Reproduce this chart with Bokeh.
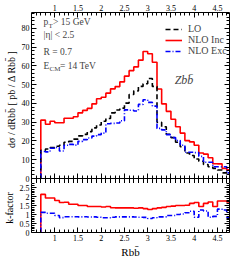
from bokeh.plotting import figure
from bokeh.layouts import column
from bokeh.models import Range1d, LinearAxis, FixedTicker, Label, Legend, LegendItem, Span
from bokeh.embed import file_html
from bokeh.resources import INLINE

# ---------------- data ----------------
bin_edges = [0.7, 0.8, 0.9, 1.0, 1.1, 1.2, 1.3, 1.4, 1.5, 1.6, 1.7, 1.8, 1.9, 2.0,
             2.1, 2.2, 2.3, 2.4, 2.5, 2.6, 2.7, 2.8, 2.9, 3.0, 3.1, 3.2, 3.3, 3.4,
             3.5, 3.6, 3.7, 3.8, 3.9, 4.0, 4.1, 4.2, 4.3, 4.4, 4.5, 4.6, 4.7, 4.8]

lo = [15.0, 15.7, 16.5, 17.2, 17.7, 19.3, 19.8, 21.0, 22.7, 23.5, 25.0, 27.0, 28.5, 30.5,
      32.0, 35.0, 36.5, 37.5, 40.2, 44.8, 46.7, 49.1, 50.5, 53.3, 49.1, 30.0, 27.6, 23.6,
      21.8, 19.3, 16.9, 13.6, 12.3, 10.4, 9.2, 7.5, 6.3, 5.4, 4.5, 3.0, 2.3]

nlo_inc = [31.1, 28.9, 30.5, 29.7, 29.7, 32.1, 32.1, 32.9, 35.0, 36.3, 37.4, 39.8, 42.5, 43.3,
           45.5, 47.8, 49.0, 51.5, 54.6, 57.5, 59.5, 63.1, 67.7, 66.5, 62.0, 47.7, 39.8, 35.8,
           31.6, 27.6, 24.2, 20.2, 19.5, 17.7, 13.6, 13.0, 11.1, 7.9, 7.8, 5.4, 4.6]

nlo_exc = [14.4, 14.2, 16.1, 16.5, 14.7, 17.7, 18.2, 17.8, 19.8, 20.7, 21.6, 22.6, 23.4, 24.2,
           29.2, 29.4, 29.6, 30.8, 36.6, 36.4, 36.0, 39.5, 42.0, 40.6, 38.6, 26.7, 25.9, 23.4,
           21.8, 20.2, 17.7, 14.0, 14.0, 13.8, 11.8, 8.7, 8.7, 6.3, 6.3, 6.3, 3.0]

k_inc = [2.12, 1.92, 1.92, 1.78, 1.67, 1.68, 1.57, 1.57, 1.50, 1.50, 1.45, 1.45, 1.45, 1.42,
         1.45, 1.38, 1.37, 1.37, 1.37, 1.37, 1.35, 1.37, 1.33, 1.28, 1.33, 1.37, 1.40, 1.45,
         1.47, 1.50, 1.50, 1.52, 1.62, 1.67, 1.45, 1.62, 1.70, 1.45, 1.75, 1.75, 1.70]

k_exc = [1.12, 1.07, 1.07, 0.95, 0.83, 0.88, 0.88, 0.88, 0.87, 0.88, 0.86, 0.87, 0.85, 0.82,
         0.82, 0.85, 0.87, 0.87, 0.87, 0.87, 0.86, 0.85, 0.84, 0.78, 0.82, 0.87, 0.87, 0.95,
         0.95, 1.00, 1.03, 1.10, 1.18, 0.85, 1.25, 1.20, 0.85, 0.90, 1.30, 1.25, 0.85]

x_ticks = [1, 1.5, 2, 2.5, 3, 3.5, 4, 4.5]
x_tick_labels = ["1", "1.5", "2", "2.5", "3", "3.5", "4", "4.5"]
x_minor = [0.6, 0.7, 0.8, 0.9, 1.1, 1.2, 1.3, 1.4, 1.6, 1.7, 1.8, 1.9, 2.1, 2.2, 2.3, 2.4,
           2.6, 2.7, 2.8, 2.9, 3.1, 3.2, 3.3, 3.4, 3.6, 3.7, 3.8, 3.9, 4.1, 4.2, 4.3, 4.4,
           4.6, 4.7]
y_ticks_main = [0, 10, 20, 30, 40, 50, 60, 70, 80]
y_tick_labels_main = ["0", "10", "20", "30", "40", "50", "60", "70", "80"]
y_minor_main = [2, 4, 6, 8, 12, 14, 16, 18, 22, 24, 26, 28, 32, 34, 36, 38, 42, 44, 46, 48,
                52, 54, 56, 58, 62, 64, 66, 68, 72, 74, 76, 78, 82, 84, 86, 88]
y_ticks_k = [0, 0.5, 1, 1.5, 2, 2.5]
y_tick_labels_k = ["0", "0.5", "1", "1.5", "2", "2.5"]
y_minor_k = [0.1, 0.2, 0.3, 0.4, 0.6, 0.7, 0.8, 0.9, 1.1, 1.2, 1.3, 1.4, 1.6, 1.7, 1.8,
             1.9, 2.1, 2.2, 2.3, 2.4, 2.6, 2.7, 2.8, 2.9]

series_names = ["LO", "NLO Inc", "NLO Exc"]
y_title = "dσ / dRbb\u0304  [ pb / Δ Rbb\u0304 ]"
k_title = "k-factor"
x_title = "Rbb\u0304"

# ---------------- geometry / styling ----------------
FONT = "Liberation Serif"
RED = "#ff0000"
BLUE = "#0000ff"
BLACK = "#000000"

W = 231
BORDER_L = 27        # y title + y tick labels
BORDER_R = 2
TOP_B = 12           # x tick labels above the upper panel
H_UP = 166           # upper panel height (px)
H_LO = 55            # lower panel height (px)
GAP = 5              # top slice of the lower panel drawn by the upper figure
BOT_B = 27           # x tick labels + x title

X_RANGE = (0.5, 4.76)
Y_MAIN = (0, 88.5)
Y_K = (0, 3.0)
main_span = Y_MAIN[1] - Y_MAIN[0]
k_span = Y_K[1] - Y_K[0]


def steps(edges, vals):
    xs = [edges[0]]
    ys = [0]
    for i, v in enumerate(vals):
        xs += [edges[i], edges[i + 1]]
        ys += [v, v]
    return xs, ys


def add_axis(p, side, ticks, minor, labels=None, show=True, tick_in=5, minor_in=3,
             line=True, title=None, title_size="10px"):
    ax = LinearAxis(ticker=FixedTicker(ticks=ticks, minor_ticks=minor))
    ax.major_tick_in = tick_in
    ax.major_tick_out = 0
    ax.minor_tick_in = minor_in
    ax.minor_tick_out = 0
    ax.axis_line_color = BLACK if line else None
    ax.major_tick_line_color = BLACK
    ax.minor_tick_line_color = BLACK
    ax.major_label_text_font = FONT
    if labels is not None:
        ax.major_label_overrides = {t: l for t, l in zip(ticks, labels)}
    if show:
        ax.major_label_text_font_size = "8px"
        ax.major_label_text_color = BLACK
        ax.major_label_standoff = 2
    else:
        ax.major_label_text_font_size = "0px"
        ax.major_label_text_color = None
        ax.major_label_standoff = 0
    if title is not None:
        ax.axis_label = title
        ax.axis_label_text_font = FONT
        ax.axis_label_text_font_style = "normal"
        ax.axis_label_text_font_size = title_size
        ax.axis_label_text_color = BLACK
        ax.axis_label_standoff = 2
    p.add_layout(ax, side)
    return ax


x_range = Range1d(*X_RANGE)

# ---------------- upper panel (plus thin top slice of the lower panel) ----------------
p1 = figure(width=W, height=TOP_B + H_UP + GAP, x_range=x_range,
            y_range=Range1d(Y_MAIN[0] - GAP * main_span / H_UP, Y_MAIN[1]),
            output_backend="svg", toolbar_location=None,
            x_axis_location=None, y_axis_location=None,
            min_border_left=BORDER_L, min_border_right=BORDER_R, min_border_top=TOP_B,
            min_border_bottom=0)
p1.grid.visible = False
p1.outline_line_color = None
p1.background_fill_color = "white"
p1.border_fill_color = "white"

add_axis(p1, "above", x_ticks, x_minor, x_tick_labels, show=True)
# ticks crossing the panel boundary (drawn up from the bottom of the slice)
add_axis(p1, "below", x_ticks, x_minor, x_tick_labels, show=False,
         tick_in=GAP + 5, minor_in=GAP + 3, line=False)
add_axis(p1, "left", y_ticks_main, y_minor_main, y_tick_labels_main, show=True,
         title=y_title)
add_axis(p1, "right", y_ticks_main, y_minor_main, y_tick_labels_main, show=False)
p1.add_layout(Span(location=Y_MAIN[0], dimension="width", line_color=BLACK, line_width=1))

xs, ys = steps(bin_edges, nlo_inc)
r_inc = p1.line(xs, ys, line_color=RED, line_width=1.6)
xs, ys = steps(bin_edges, lo)
r_lo = p1.line(xs, ys, line_color=BLACK, line_width=1.6, line_dash="5 3")
xs, ys = steps(bin_edges, nlo_exc)
r_exc = p1.line(xs, ys, line_color=BLUE, line_width=1.6, line_dash="5 2 1 2")

legend = Legend(items=[LegendItem(label=series_names[0], renderers=[r_lo]),
                       LegendItem(label=series_names[1], renderers=[r_inc]),
                       LegendItem(label=series_names[2], renderers=[r_exc])],
                location=(134, 127), orientation="vertical",
                border_line_color=None, background_fill_alpha=0,
                padding=0, margin=0, spacing=0,
                glyph_width=17, glyph_height=10, label_height=10, label_standoff=6,
                label_text_font=FONT, label_text_font_size="10px")
p1.add_layout(legend)

# cut description
TXT = "9.5px"
SUB = "7px"
p1.add_layout(Label(x=0.76, y=80.6, text="p", text_font=FONT, text_font_size=TXT))
p1.add_layout(Label(x=0.76, y=80.6, x_offset=5, y_offset=-2.5, text="T",
                    text_font=FONT, text_font_size=SUB))
p1.add_layout(Label(x=0.76, y=80.6, x_offset=9.5, text=" > 15 GeV",
                    text_font=FONT, text_font_size=TXT))
p1.add_layout(Label(x=0.76, y=73.7, text="|η| < 2.5", text_font=FONT, text_font_size=TXT))
p1.add_layout(Label(x=0.76, y=64.9, text="R = 0.7", text_font=FONT, text_font_size=TXT))
p1.add_layout(Label(x=0.76, y=57.5, text="E", text_font=FONT, text_font_size=TXT))
p1.add_layout(Label(x=0.76, y=57.5, x_offset=6, y_offset=-2.5, text="CM",
                    text_font=FONT, text_font_size=SUB))
p1.add_layout(Label(x=0.76, y=57.5, x_offset=16.5, text=" = 14 TeV",
                    text_font=FONT, text_font_size=TXT))

# process label
p1.add_layout(Label(x=3.58, y=48.7, text="Zbb\u0304", text_font=FONT,
                    text_font_style="italic", text_font_size="12px"))

# ---------------- lower panel (k-factor) ----------------
p2 = figure(width=W, height=H_LO - GAP + BOT_B, x_range=x_range,
            y_range=Range1d(Y_K[0], Y_K[1] - GAP * k_span / H_LO),
            output_backend="svg", toolbar_location=None,
            x_axis_location=None, y_axis_location=None,
            min_border_left=BORDER_L, min_border_right=BORDER_R, min_border_top=0,
            min_border_bottom=BOT_B)
p2.grid.visible = False
p2.outline_line_color = None
p2.background_fill_color = "white"
p2.border_fill_color = "white"

add_axis(p2, "below", x_ticks, x_minor, x_tick_labels, show=True,
         title=x_title, title_size="11px")
add_axis(p2, "left", y_ticks_k, y_minor_k, y_tick_labels_k, show=True, title=k_title)
add_axis(p2, "right", y_ticks_k, y_minor_k, y_tick_labels_k, show=False)

xs, ys = steps(bin_edges, k_inc)
p2.line(xs, ys, line_color=RED, line_width=1.6)
xs, ys = steps(bin_edges, k_exc)
p2.line(xs, ys, line_color=BLUE, line_width=1.6, line_dash="5 2 1 2")

layout = column(p1, p2, spacing=0)
open("out.html", "w").write(file_html(layout, INLINE))
